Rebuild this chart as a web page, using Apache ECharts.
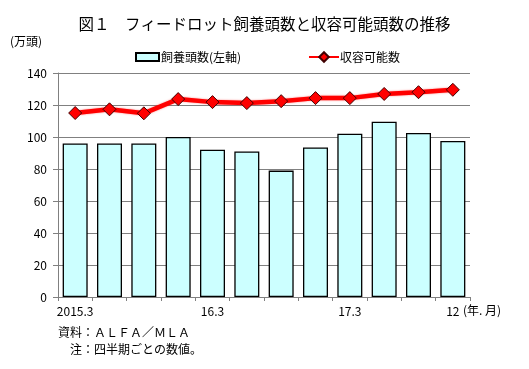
<!DOCTYPE html>
<html><head><meta charset="utf-8">
<script src="https://cdn.jsdelivr.net/npm/echarts@6/dist/echarts.min.js"></script>
<style>html,body{margin:0;padding:0;background:#fff}#c{width:529px;height:369px}</style>
</head><body><div id="c"></div>
<script>
var categories = ['2015.3','2015.6','2015.9','2015.12','2016.3','2016.6','2016.9','2016.12','2017.3','2017.6','2017.9','2017.12'];
var xTickLabels = ['2015.3','','','','16.3','','','','17.3','','','12'];
var headCount = [96, 96, 96, 100, 92, 91, 79, 93.5, 102, 109.5, 102.5, 97.5];
var capacity = [115, 117.3, 114.8, 123.7, 121.8, 121.2, 122.4, 124.3, 124.3, 126.9, 128, 129.5];
var yTicks = [0, 20, 40, 60, 80, 100, 120, 140];

var FONT = '"Noto Sans CJK JP", sans-serif';
var chart = echarts.init(document.getElementById('c'), null, {renderer: 'canvas'});
chart.setOption({
  animation: false,
  backgroundColor: '#fff',
  textStyle: {fontFamily: FONT, color: '#000'},
  title: {
    text: '図１　フィードロット飼養頭数と収容可能頭数の推移',
    left: 'center', top: 11,
    textStyle: {fontFamily: FONT, fontSize: 15.5, fontWeight: 'normal', color: '#000'}
  },
  legend: [{
    left: 130, top: 46, itemWidth: 23, itemHeight: 8, itemGap: 4,
    data: [{name: '飼養頭数(左軸)', icon: 'rect'}],
    textStyle: {fontFamily: FONT, fontSize: 12, color: '#000', padding: [0,0,0,-3]}
  }, {
    left: 303, top: 46, itemWidth: 30, itemHeight: 12,
    data: ['収容可能数'],
    textStyle: {fontFamily: FONT, fontSize: 12, color: '#000', padding: [0,0,0,-4]}
  }],
  grid: {left: 58, right: 59, top: 73, bottom: 72, containLabel: false},
  xAxis: {
    type: 'category', data: categories, boundaryGap: true,
    axisLine: {lineStyle: {color: '#808080', width: 1}},
    axisTick: {show: true, interval: 0, length: 4, lineStyle: {color: '#808080'}},
    axisLabel: {
      interval: 0, margin: 8, fontSize: 12, color: '#000', fontFamily: FONT,
      formatter: function (v, i) { return xTickLabels[i]; }
    }
  },
  yAxis: {
    type: 'value', min: yTicks[0], max: yTicks[yTicks.length - 1], interval: 20,
    axisLine: {show: true, lineStyle: {color: '#808080'}},
    axisTick: {show: true, length: 5, lineStyle: {color: '#808080'}},
    axisLabel: {margin: 11, fontSize: 12, color: '#000', fontFamily: FONT},
    splitLine: {show: true, lineStyle: {color: '#808080', width: 1}}
  },
  series: [{
    name: '飼養頭数(左軸)', type: 'bar', data: headCount, barWidth: 25,
    itemStyle: {color: '#CCFFFF', borderColor: '#000', borderWidth: 1.3},
    z: 2
  }, {
    name: '収容可能数', type: 'line', data: capacity,
    lineStyle: {color: '#FF0000', width: 4.5, shadowBlur: 2, shadowColor: 'rgba(255,0,0,0.5)'},
    symbol: 'diamond', symbolSize: [13, 13],
    itemStyle: {color: '#FF0000', borderColor: '#400000', borderWidth: 1},
    z: 5
  }],
  graphic: [
    {type: 'text', left: 10, top: 35, style: {text: '(万頭)', font: '12px ' + FONT, fill: '#000'}},
    {type: 'text', left: 463, top: 304, style: {text: '(年. 月)', font: '12px ' + FONT, fill: '#000'}},
    {type: 'text', left: 58, top: 326, style: {text: '資料：ＡＬＦＡ／ＭＬＡ', font: '12px ' + FONT, fill: '#000'}},
    {type: 'text', left: 70, top: 343, style: {text: '注：四半期ごとの数値。', font: '12px ' + FONT, fill: '#000'}}
  ]
});
</script>
</body></html>
